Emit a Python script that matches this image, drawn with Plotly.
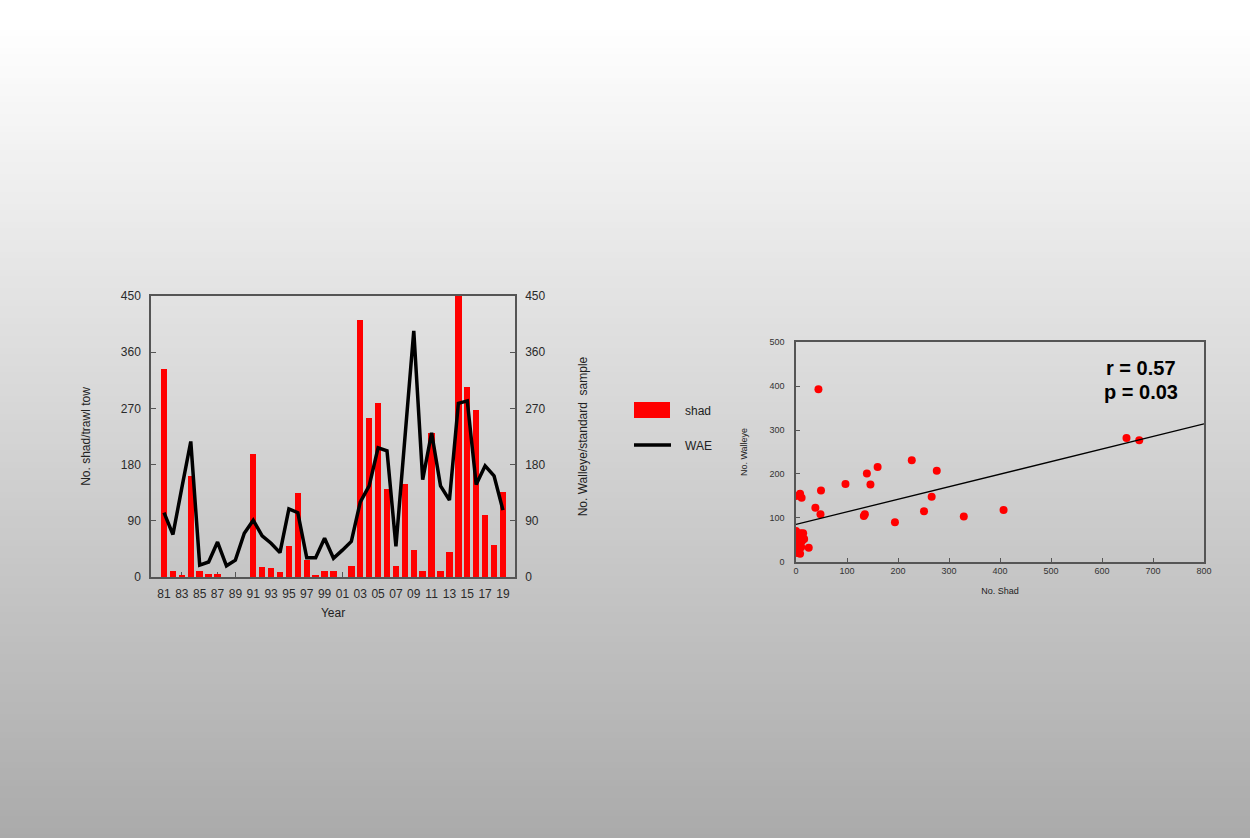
import plotly.graph_objects as go

# ---- data ----
years = list(range(1981, 2020))
shad = [333, 10, 2, 162, 10, 5, 5, 0, 0, 0,
        197, 16, 14, 8, 50, 134, 27, 3, 10, 10,
        0, 18, 412, 255, 278, 141, 18, 149, 44, 10,
        231, 10, 40, 450, 304, 268, 100, 52, 136]
wae = [103, 68, 143, 217, 19, 24, 56, 18, 27, 70,
       91, 66, 54, 39, 109, 103, 31, 31, 62, 30,
       43, 57, 120, 146, 207, 202, 49, 220, 394, 156,
       231, 146, 123, 278, 282, 148, 178, 162, 107]
year_ticks = list(range(1981, 2020, 2))
year_labels = ["%02d" % (y % 100) for y in year_ticks]

sc_shad = [44, 0, 8, 11, 38, 49, 48, 97, 139, 160, 146, 133, 135, 194, 227,
           276, 266, 251, 329, 407, 648, 673,
           0, 1, 6, 11, 14, 13, 16, 7, 2, 0, 6, 10, 25, 1, 7, 3, 8, 12, 5, 9]
sc_wae = [393, 150, 155, 146, 123, 162, 108, 177, 201, 216, 176, 104, 108, 90, 231,
          207, 148, 115, 103, 118, 282, 277,
          70, 47, 57, 64, 65, 56, 52, 42, 35, 25, 26, 33, 32, 44, 65, 20, 18, 48, 30, 38]
fit_x = [0, 800]
fit_y = [85, 314]

W, H = 1250, 838
def px(x):
    return x / W
def py(y):
    return 1 - y / H

font = "Liberation Sans, Arial, sans-serif"

fig = go.Figure()

fig.add_trace(go.Bar(x=years, y=shad, marker_color="#ff0000", width=0.72,
                     marker_line_width=0, xaxis="x", yaxis="y", name="shad"))
fig.add_trace(go.Scatter(x=years, y=wae, mode="lines", line=dict(color="black", width=3.5),
                         xaxis="x", yaxis="y2", name="WAE"))

fig.add_trace(go.Scatter(x=sc_shad, y=sc_wae, mode="markers",
                         marker=dict(color="#ff0000", size=8), xaxis="x3", yaxis="y3"))
fig.add_trace(go.Scatter(x=fit_x, y=fit_y, mode="lines", line=dict(color="black", width=1.3),
                         xaxis="x3", yaxis="y3"))

# gradient background as overlapping horizontal bands
shapes = []
band = 6
for i in range(0, H, band):
    t = max(0, (i - 20)) / (H - 20)
    c = int(round(255 - 85 * t))
    shapes.append(dict(type="rect", xref="paper", yref="paper", x0=0, x1=1,
                       y0=py(i + band + 2), y1=py(i), fillcolor="rgb(%d,%d,%d)" % (c, c, c),
                       line_width=0, layer="below"))

# legend
shapes.append(dict(type="rect", xref="paper", yref="paper", x0=px(634), x1=px(670),
                   y0=py(418), y1=py(402), fillcolor="#ff0000", line_width=0))
shapes.append(dict(type="line", xref="paper", yref="paper", x0=px(634), x1=px(671),
                   y0=py(445), y1=py(445), line=dict(color="black", width=3.5)))

ax_line = "#555555"
tickfont = dict(family=font, size=12, color="#2a2a2a")

annotations = [
    dict(text="shad", x=px(683), y=py(411), xref="paper", yref="paper", showarrow=False,
         xanchor="left", font=dict(family=font, size=12, color="#222")),
    dict(text="WAE", x=px(683), y=py(446), xref="paper", yref="paper", showarrow=False,
         xanchor="left", font=dict(family=font, size=12, color="#222")),
    dict(text="<b>r = 0.57</b>", x=px(1178), y=py(368), xref="paper", yref="paper",
         showarrow=False, xanchor="right", font=dict(family=font, size=20, color="black")),
    dict(text="<b>p = 0.03</b>", x=px(1180), y=py(392), xref="paper", yref="paper",
         showarrow=False, xanchor="right", font=dict(family=font, size=20, color="black")),
]

fig.update_layout(
    width=W, height=H, margin=dict(l=0, r=0, t=0, b=0, pad=0, autoexpand=False),
    paper_bgcolor="white", plot_bgcolor="rgba(0,0,0,0)",
    showlegend=False, bargap=0, shapes=shapes, annotations=annotations,
    font=dict(family=font, color="#222"),
    xaxis=dict(domain=[px(151), px(515)], range=[1979.54, 2020.35],
               tickvals=year_ticks, ticktext=year_labels, ticks="inside", ticklen=5,
               tickcolor=ax_line, showline=True, linecolor=ax_line, linewidth=1.5,
               mirror=True, showgrid=False, zeroline=False, tickfont=tickfont,
               ticklabelstandoff=5,
               title=dict(text="Year", font=dict(family=font, size=12), standoff=8),
               anchor="y", layer="below traces", automargin=False),
    yaxis=dict(domain=[py(577), py(296)], range=[0, 450], dtick=90, ticks="inside",
               ticklen=5, tickcolor=ax_line, showline=True, linecolor=ax_line,
               linewidth=1.5, showgrid=False, zeroline=False, tickfont=tickfont,
               ticklabelstandoff=6, automargin=False,
               title=dict(text="No. shad/trawl tow", font=dict(family=font, size=12),
                          standoff=28), anchor="x"),
    yaxis2=dict(range=[0, 450], dtick=90, overlaying="y", side="right", anchor="x",
                ticks="inside", ticklen=5, tickcolor=ax_line, showline=True,
                linecolor=ax_line, linewidth=1.5, showgrid=False, zeroline=False,
                tickfont=tickfont, ticklabelstandoff=6, automargin=False,
                title=dict(text="No. Walleye/standard  sample",
                           font=dict(family=font, size=12), standoff=34)),
    xaxis3=dict(domain=[px(796), px(1204)], range=[0, 800], dtick=100, ticks="inside",
                ticklen=4, tickcolor=ax_line, showline=True, linecolor=ax_line,
                linewidth=1.5, mirror=True, showgrid=False, zeroline=False,
                tickfont=dict(family=font, size=9, color="#333"), automargin=False,
                title=dict(text="No. Shad", font=dict(family=font, size=9), standoff=12),
                anchor="y3"),
    yaxis3=dict(domain=[py(561.7), py(342.3)], range=[0, 500], dtick=100, ticks="inside",
                ticklen=4, tickcolor=ax_line, showline=True, linecolor=ax_line,
                linewidth=1.5, mirror=True, showgrid=False, zeroline=False,
                tickfont=dict(family=font, size=9, color="#333"), ticklabelstandoff=8,
                automargin=False,
                title=dict(text="No. Walleye", font=dict(family=font, size=9), standoff=20),
                anchor="x3"),
)

fig.write_html("out.html", config={"displayModeBar": False},
               post_script="document.body.style.margin='0px';document.body.style.overflow='hidden';")
